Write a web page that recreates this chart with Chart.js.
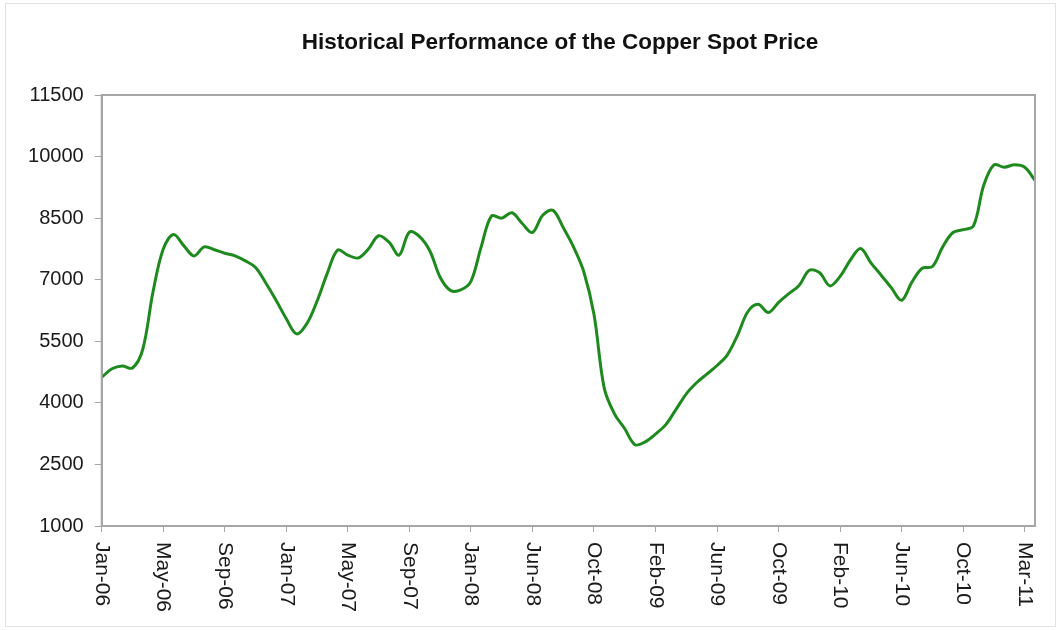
<!DOCTYPE html>
<html>
<head>
<meta charset="utf-8">
<script src="https://cdn.jsdelivr.net/npm/chart.js@4/dist/chart.umd.min.js"></script>
<style>
  html, body { margin: 0; padding: 0; background: #ffffff; }
  #wrap { width: 1060px; height: 630px; position: relative; }
</style>
</head>
<body>
<div id="wrap"><canvas id="c" width="1060" height="630"></canvas></div>
<script>
// ---- Data ----
const chartTitle = "Historical Performance of the Copper Spot Price";
const tickLabels = ["Jan-06","May-06","Sep-06","Jan-07","May-07","Sep-07","Jan-08","Jun-08",
                    "Oct-08","Feb-09","Jun-09","Oct-09","Feb-10","Jun-10","Oct-10","Mar-11"];
const labelEvery = 6; // one tick label every 6 samples
const copperPrice = [
  4620, 4830, 4900, 4850, 5300, 6700, 7750, 8100, 7830, 7580,
  7800, 7730, 7645, 7580, 7460, 7300, 6920, 6500, 6050, 5680,
  5930, 6480, 7160, 7720, 7600, 7530, 7750, 8070, 7920, 7600,
  8160, 8050, 7700, 7060, 6740, 6750, 6960, 7800, 8550, 8500,
  8630, 8370, 8150, 8570, 8690, 8270, 7800, 7200, 6150, 4360,
  3730, 3370, 2980, 3050, 3240, 3470, 3840, 4220, 4490, 4700,
  4910, 5170, 5650, 6220, 6400, 6200, 6450, 6660, 6860, 7230,
  7170, 6850, 7080, 7480, 7760, 7410, 7110, 6800, 6500, 6940,
  7280, 7320, 7800, 8150, 8220, 8310, 9300, 9795, 9740, 9800,
  9740, 9420
];
const yTicks = { min: 1000, max: 11500, step: 1500 };

const categories = copperPrice.map((_, i) =>
  i % labelEvery === 0 && tickLabels[i / labelEvery] ? tickLabels[i / labelEvery] : "");

const FONT = "'Liberation Sans', Arial, Helvetica, sans-serif";
const AXIS_GRAY = "#a6a6a6";
const TEXT = "#1a1a1a";

const framePlugin = {
  id: "frame",
  beforeDraw(chart) {
    const ctx = chart.ctx;
    ctx.save();
    ctx.fillStyle = "#ffffff";
    ctx.fillRect(0, 0, chart.width, chart.height);
    ctx.strokeStyle = "#e2e2e2";
    ctx.lineWidth = 1;
    ctx.strokeRect(5.5, 3.5, chart.width - 10, chart.height - 7);
    ctx.restore();
  },
  afterDraw(chart) {
    const ctx = chart.ctx;
    const a = chart.chartArea;
    ctx.save();
    // plot frame
    ctx.strokeStyle = AXIS_GRAY;
    ctx.lineWidth = 2;
    ctx.strokeRect(a.left, a.top, a.right - a.left, a.bottom - a.top);
    // title
    ctx.fillStyle = "#111111";
    ctx.font = "bold 22.5px " + FONT;
    ctx.textAlign = "center";
    ctx.textBaseline = "middle";
    ctx.fillText(chartTitle, 560, 43);
    // rotated x labels (reading downward)
    const xs = chart.scales.x;
    ctx.fillStyle = TEXT;
    ctx.font = "21px " + FONT;
    ctx.textAlign = "left";
    ctx.textBaseline = "middle";
    categories.forEach((lab, i) => {
      if (!lab) return;
      const x = xs.getPixelForValue(i);
      ctx.save();
      ctx.translate(x, a.bottom + 16);
      ctx.rotate(Math.PI / 2);
      ctx.fillText(lab, 0, 0);
      ctx.restore();
    });
    ctx.restore();
  }
};

new Chart(document.getElementById("c"), {
  type: "line",
  data: {
    labels: categories,
    datasets: [{
      label: "Copper spot price",
      data: copperPrice,
      borderColor: "#1e8a1e",
      borderWidth: 3,
      pointRadius: 0,
      tension: 0.35,
      fill: false
    }]
  },
  options: {
    responsive: false,
    animation: false,
    devicePixelRatio: 1,
    layout: { padding: { left: 15, right: 25, top: 95, bottom: 0 } },
    plugins: {
      legend: { display: false },
      tooltip: { enabled: false },
      title: { display: false }
    },
    scales: {
      x: {
        type: "category",
        offset: false,
        afterFit: s => { s.height = 104; },
        border: { display: true, color: AXIS_GRAY, width: 2 },
        grid: {
          drawOnChartArea: false,
          drawTicks: true,
          tickLength: 6,
          color: ctx => (ctx.index % labelEvery === 0 ? AXIS_GRAY : "rgba(0,0,0,0)"),
          lineWidth: 1
        },
        ticks: { display: false, autoSkip: false }
      },
      y: {
        min: yTicks.min,
        max: yTicks.max,
        afterFit: s => { s.width = 86.7; },
        border: { display: true, color: AXIS_GRAY, width: 2 },
        grid: { drawOnChartArea: false, drawTicks: true, tickLength: 7, color: AXIS_GRAY },
        ticks: {
          stepSize: yTicks.step,
          padding: 11,
          color: TEXT,
          font: { family: FONT, size: 20 },
          callback: v => String(v)
        }
      }
    }
  },
  plugins: [framePlugin]
});
</script>
</body>
</html>
